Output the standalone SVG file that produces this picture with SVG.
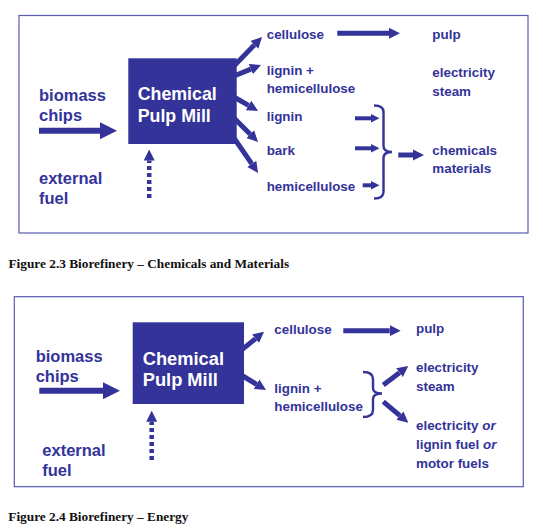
<svg xmlns="http://www.w3.org/2000/svg" width="543" height="532" viewBox="0 0 543 532">
<style>
.frame{fill:none;stroke:#5a5ab0;stroke-width:1.2}
.box{fill:#333399}
.t{font-family:"Liberation Sans",Arial,sans-serif;font-weight:bold;fill:#333399;font-size:13.4px}
.big{font-size:16.5px}
.mill{font-family:"Liberation Sans",Arial,sans-serif;font-weight:bold;fill:#ffffff;font-size:17.8px}
.cap{font-family:"Liberation Serif","Times New Roman",serif;font-weight:bold;fill:#111111;font-size:13.3px}
.a{stroke:#333399;fill:none}
.w6{stroke-width:6}
.w5{stroke-width:5}
.w4{stroke-width:4}
.dash{stroke-width:4.5;stroke-dasharray:4 3}
.brace{stroke:#333399;stroke-width:2.4;fill:none}
.it{font-style:italic}
</style>
<defs>
<marker id="hb" viewBox="0 0 10 10" refX="0" refY="5" markerWidth="18" markerHeight="17" markerUnits="userSpaceOnUse" orient="auto"><path d="M0,0 L10,5 L0,10 z" fill="#333399"/></marker>
<marker id="hm" viewBox="0 0 10 10" refX="0" refY="5" markerWidth="11" markerHeight="12.5" markerUnits="userSpaceOnUse" orient="auto"><path d="M0,0 L10,5 L0,10 z" fill="#333399"/></marker>
<marker id="hs" viewBox="0 0 10 10" refX="0" refY="5" markerWidth="8.5" markerHeight="10.5" markerUnits="userSpaceOnUse" orient="auto"><path d="M0,0 L10,5 L0,10 z" fill="#333399"/></marker>
</defs>

<!-- Figure 2.3 -->
<rect class="frame" x="19" y="15.5" width="509" height="217.5"/>
<g id="connectors1">
<line class="a w6" x1="39" y1="130.7" x2="100" y2="130.7" marker-end="url(#hb)"/>
<line class="a dash" x1="149.2" y1="198" x2="149.2" y2="160.5" marker-end="url(#hm)"/>
<line class="a w5" x1="234" y1="66" x2="254.4" y2="44.9" marker-end="url(#hm)"/>
<line class="a w5" x1="234" y1="76" x2="250.8" y2="69.1" marker-end="url(#hm)"/>
<line class="a w5" x1="234" y1="97" x2="248.5" y2="105.4" marker-end="url(#hm)"/>
<line class="a w5" x1="234" y1="118" x2="250.2" y2="134.2" marker-end="url(#hm)"/>
<line class="a w5" x1="234" y1="138" x2="251.8" y2="163.9" marker-end="url(#hm)"/>
<line class="a w5" x1="337.3" y1="33.3" x2="389" y2="33.3" marker-end="url(#hm)"/>
<line class="a w4" x1="355" y1="118.3" x2="371" y2="118.3" marker-end="url(#hs)"/>
<line class="a w4" x1="355" y1="148.3" x2="371" y2="148.3" marker-end="url(#hs)"/>
<line class="a w4" x1="362.7" y1="185.3" x2="371" y2="185.3" marker-end="url(#hs)"/>
<path class="brace" d="M374 105.5 Q383.5 105.5 383.5 112 L383.5 146 Q383.5 152 392 152 Q383.5 152 383.5 158 L383.5 192 Q383.5 198.5 374 198.5"/>
<line class="a w5" x1="398.3" y1="155" x2="413" y2="155" marker-end="url(#hm)"/>
</g>
<g id="mill1"><rect class="box" x="128.3" y="58.3" width="108.4" height="85.7"/>
<text class="mill" x="137.7" y="100">Chemical</text><text class="mill" x="137.7" y="121.5">Pulp Mill</text></g>
<g id="biomass1"><text class="t big" x="39" y="101">biomass</text><text class="t big" x="39" y="120.5">chips</text></g>
<g id="fuel1"><text class="t big" x="39" y="184">external</text><text class="t big" x="39" y="204">fuel</text></g>
<g id="cellulose1"><text class="t" x="266.7" y="38.5">cellulose</text></g>
<g id="lignhemi1"><text class="t" x="266.7" y="75">lignin +</text><text class="t" x="266.7" y="93.3">hemicellulose</text></g>
<g id="lignin1"><text class="t" x="266.7" y="120.7">lignin</text></g>
<g id="bark1"><text class="t" x="266.7" y="155">bark</text></g>
<g id="hemi1"><text class="t" x="266.7" y="191">hemicellulose</text></g>
<g id="pulp1"><text class="t" x="432.3" y="38.5">pulp</text></g>
<g id="elec1"><text class="t" x="432.3" y="77.3">electricity</text><text class="t" x="432.3" y="96">steam</text></g>
<g id="chem1"><text class="t" x="432.3" y="155">chemicals</text><text class="t" x="432.3" y="173.3">materials</text></g>
<text class="cap" x="8.5" y="268.3">Figure 2.3 Biorefinery – Chemicals and Materials</text>

<!-- Figure 2.4 -->
<rect class="frame" x="14.3" y="296.7" width="509" height="190"/>
<g id="connectors2">
<line class="a w6" x1="39.3" y1="390.7" x2="103" y2="390.7" marker-end="url(#hb)"/>
<line class="a dash" x1="151.7" y1="460" x2="151.7" y2="421.7" marker-end="url(#hm)"/>
<line class="a w5" x1="242" y1="349.6" x2="255.5" y2="338.7" marker-end="url(#hm)"/>
<line class="a w5" x1="242" y1="375.5" x2="256.6" y2="384.3" marker-end="url(#hm)"/>
<line class="a w5" x1="343.3" y1="330.7" x2="389.7" y2="330.7" marker-end="url(#hm)"/>
<path class="brace" d="M363 372 Q373 372 373 379 L373 388 Q373 393.5 382 393.5 Q373 393.5 373 399 L373 410 Q373 417 363 417"/>
<line class="a w5" x1="383.3" y1="385" x2="399.5" y2="372.7" marker-end="url(#hm)"/>
<line class="a w5" x1="383.3" y1="401.7" x2="399.9" y2="415.6" marker-end="url(#hm)"/>
</g>
<g id="mill2"><rect class="box" x="132.7" y="322.3" width="111.3" height="81.7"/>
<text class="mill" x="142.7" y="365" style="font-size:18.3px">Chemical</text><text class="mill" x="142.7" y="386" style="font-size:18.3px">Pulp Mill</text></g>
<g id="biomass2"><text class="t big" x="35.7" y="361.7">biomass</text><text class="t big" x="35.7" y="381.7">chips</text></g>
<g id="fuel2"><text class="t big" x="42.3" y="455.7">external</text><text class="t big" x="42.3" y="476">fuel</text></g>
<g id="cellulose2"><text class="t" x="274.3" y="334.3">cellulose</text></g>
<g id="lignhemi2"><text class="t" x="274.3" y="392.7">lignin +</text><text class="t" x="274.3" y="411">hemicellulose</text></g>
<g id="pulp2"><text class="t" x="416" y="333.3">pulp</text></g>
<g id="elec2"><text class="t" x="416" y="371.7">electricity</text><text class="t" x="416" y="390.7">steam</text></g>
<g id="fuels2"><text class="t" x="416" y="430">electricity <tspan class="it">or</tspan></text><text class="t" x="416" y="449.3">lignin fuel <tspan class="it">or</tspan></text><text class="t" x="416" y="468.3">motor fuels</text></g>
<text class="cap" x="8.3" y="520.7">Figure 2.4 Biorefinery – Energy</text>
</svg>
